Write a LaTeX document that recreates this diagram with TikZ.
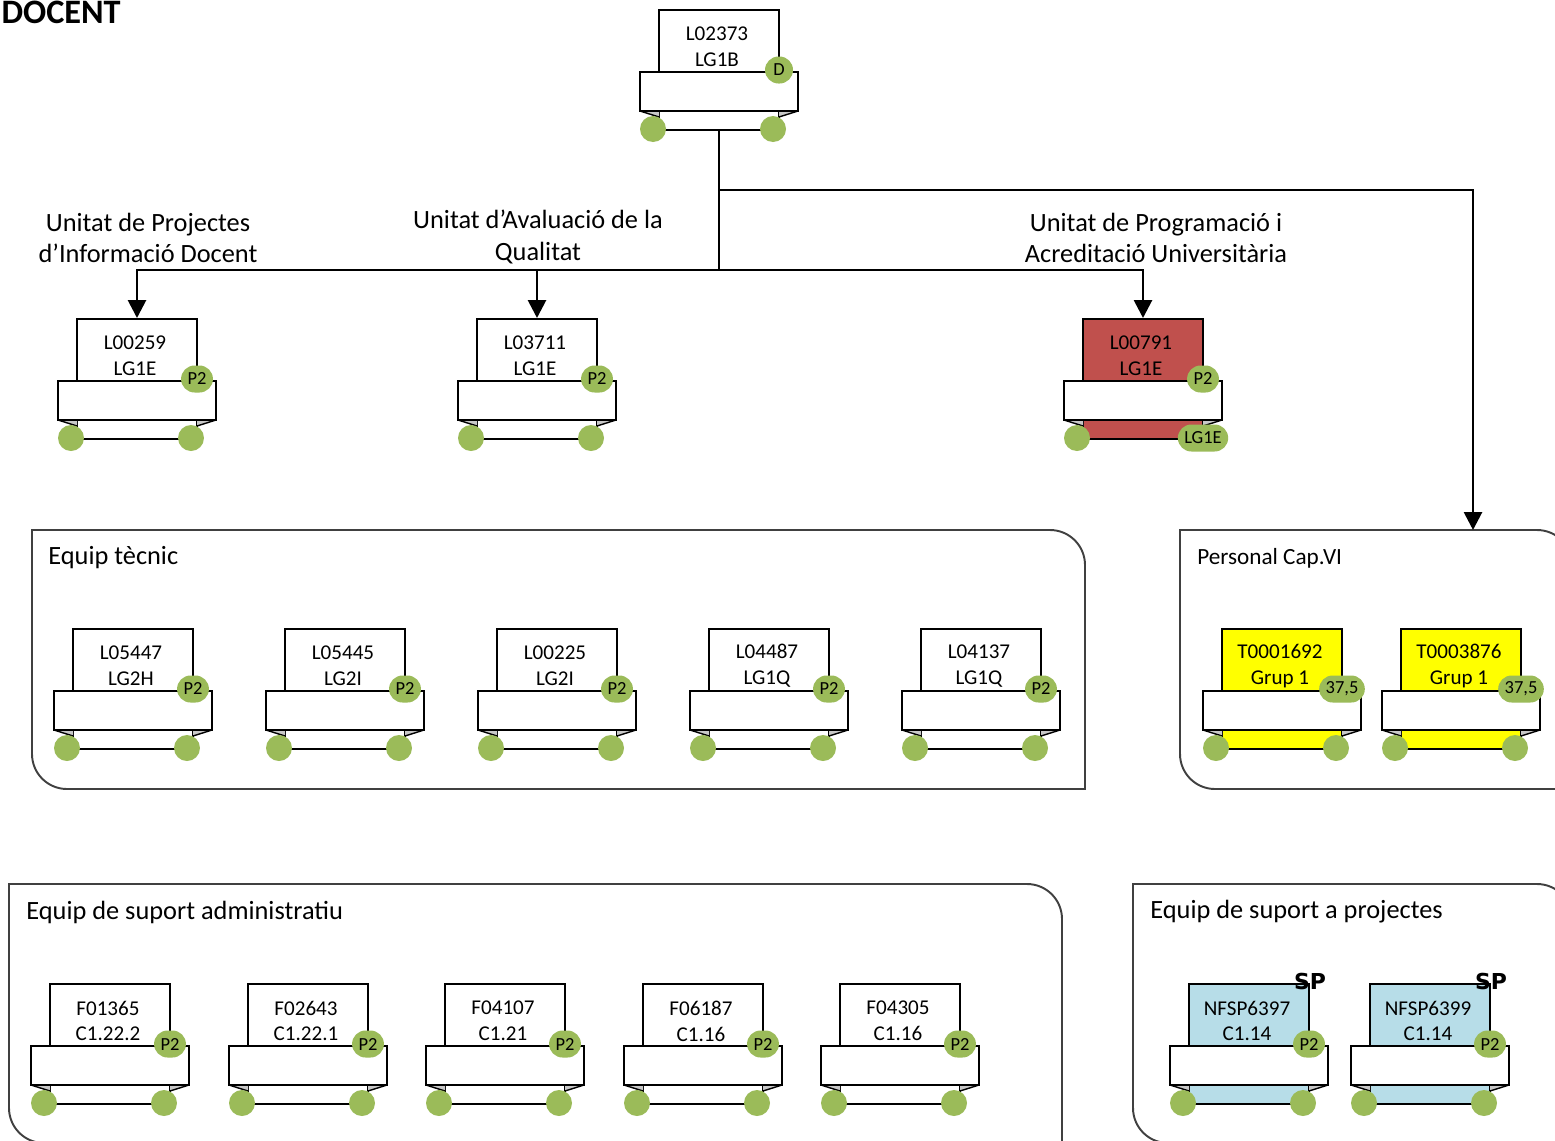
\documentclass[tikz,border=0pt]{standalone}
\usepackage{fontspec}
\setmainfont{Carlito}
\newfontfamily\spfont{DejaVu Sans}
\usetikzlibrary{arrows.meta}
\definecolor{dotgreen}{HTML}{9BBB59}
\definecolor{cardred}{HTML}{C0504D}
\definecolor{cardblue}{HTML}{B7DDE8}
\definecolor{cardyellow}{HTML}{FFFF00}
\definecolor{foldgray}{HTML}{C8C8C8}
\definecolor{grpgray}{HTML}{404040}
\tikzset{
  back/.style={draw, line width=1.1pt, minimum width=2.4cm, minimum height=2.4cm, inner sep=0pt},
  band/.style={draw, fill=white, line width=1.1pt},
  fold/.style={fill=foldgray},
  foldline/.style={line width=0.8pt},
  dot/.style={fill=dotgreen},
  txt/.style={align=center, inner sep=0pt, font=\fontsize{12}{14.7}\selectfont},
  badge/.style={fill=dotgreen, rounded corners=0.27cm, minimum height=0.54cm, minimum width=0.56cm,
    inner xsep=0.13cm, inner ysep=0pt, font=\fontsize{10.5}{11}\selectfont},
  conn/.style={line width=1.6pt},
  tip/.style={-{Triangle[length=0.36cm, width=0.36cm]}},
  grp/.style={draw=grpgray, line width=1.1pt},
  unitat/.style={align=center, inner sep=0pt, font=\fontsize{15}{18.1}\selectfont},
  equip/.style={anchor=west, inner sep=0pt, font=\fontsize{15}{18}\selectfont}
}
% plaza: name, cx, top, line1, line2, fill, badge
\newcommand{\plaza}[7]{%
  \node[back, fill=#6, anchor=north] (#1) at (#2,#3) {};
  \fill[fold] ({#2-79},{#3+102}) -- ({#2-60},{#3+102}) -- ({#2-60},{#3+108}) -- cycle;
  \fill[fold] ({#2+79},{#3+102}) -- ({#2+60},{#3+102}) -- ({#2+60},{#3+108}) -- cycle;
  \draw[foldline] ({#2-79},{#3+102}) -- ({#2-60},{#3+108});
  \draw[foldline] ({#2+79},{#3+102}) -- ({#2+60},{#3+108});
  \draw[band] ({#2-79},{#3+63}) rectangle ({#2+79},{#3+102});
  \fill[dot] ({#2-66},{#3+120}) circle[radius=0.26cm];
  \fill[dot] ({#2+54},{#3+120}) circle[radius=0.26cm];
  \node[txt] (#1-t) at ({#2-2},{#3+38}) {#4\\#5};
  \node[badge] (#1-b) at ({#2+60},{#3+61}) {#7};
}
\begin{document}
\begin{tikzpicture}[x=0.02cm, y=-0.02cm]
        \useasboundingbox (0,0) rectangle (1555,1140);
        \node[anchor=base east, inner sep=0pt, font=\bfseries\fontsize{19.5}{22}\selectfont] (titol) at (121,23) {DOCENT};

        \draw[grp] (32,530) -- (1050,530) arc[start angle=90, end angle=0, radius=0.7cm] -- (1085,789) -- (67,789) arc[start angle=270, end angle=180, radius=0.7cm] -- cycle;
        \draw[grp] (1180,530) -- (1537,530) arc[start angle=90, end angle=0, radius=0.7cm] -- (1572,789) -- (1215,789) arc[start angle=270, end angle=180, radius=0.7cm] -- cycle;
        \draw[grp] (9,884) -- (1027,884) arc[start angle=90, end angle=0, radius=0.7cm] -- (1062,1143) -- (44,1143) arc[start angle=270, end angle=180, radius=0.7cm] -- cycle;
        \draw[grp] (1133,884) -- (1537,884) arc[start angle=90, end angle=0, radius=0.7cm] -- (1572,1143) -- (1168,1143) arc[start angle=270, end angle=180, radius=0.7cm] -- cycle;
        \node[equip] (tecnic) at (48,558) {Equip tècnic};
        \node[equip, font=\fontsize{13.2}{15}\selectfont] (capVI) at (1197,558) {Personal Cap.VI};
        \node[equip] (admin) at (26,912) {Equip de suport administratiu};
        \node[equip] (projectes) at (1150,912) {Equip de suport a projectes};

        \plaza{L02373}{719}{9}{L02373}{LG1B}{white}{D}
        \plaza{L00259}{137}{318}{L00259}{LG1E}{white}{P2}
        \plaza{L03711}{537}{318}{L03711}{LG1E}{white}{P2}
        \plaza{L00791}{1143}{318}{L00791}{LG1E}{cardred}{P2}
        \node[badge] (L00791-g) at (1203,438) {LG1E};

        \coordinate (fork) at (719,190);
        \coordinate (hub) at (719,270);
        \coordinate (capvi-in) at (1473,530);
        \draw[conn] (L02373.south) -- (hub);
        \draw[conn, tip] (hub) -| (L00259.north);
        \draw[conn, tip] (hub) -| (L03711.north);
        \draw[conn, tip] (hub) -| (L00791.north);
        \draw[conn, tip] (fork) -| (capvi-in);

        \node[unitat] (upid) at (148,238) {Unitat de Projectes\\d’Informació Docent};
        \node[unitat] (uaq) at (538,237) {Unitat d’Avaluació de la\\Qualitat};
        \node[unitat] (upau) at (1156,238) {Unitat de Programació i\\Acreditació Universitària};

        \plaza{L05447}{133}{628}{L05447}{LG2H}{white}{P2}
        \plaza{L05445}{345}{628}{L05445}{LG2I}{white}{P2}
        \plaza{L00225}{557}{628}{L00225}{LG2I}{white}{P2}
        \plaza{L04487}{769}{628}{L04487}{LG1Q}{white}{P2}
        \plaza{L04137}{981}{628}{L04137}{LG1Q}{white}{P2}
        \plaza{T0001692}{1282}{628}{T0001692}{Grup 1}{cardyellow}{37,5}
        \plaza{T0003876}{1461}{628}{T0003876}{Grup 1}{cardyellow}{37,5}

        \plaza{F01365}{110}{983}{F01365}{C1.22.2}{white}{P2}
        \plaza{F02643}{308}{983}{F02643}{C1.22.1}{white}{P2}
        \plaza{F04107}{505}{983}{F04107}{C1.21}{white}{P2}
        \plaza{F06187}{703}{983}{F06187}{C1.16}{white}{P2}
        \plaza{F04305}{900}{983}{F04305}{C1.16}{white}{P2}
        \plaza{NFSP6397}{1249}{983}{NFSP6397}{C1.14}{cardblue}{P2}
        \plaza{NFSP6399}{1430}{983}{NFSP6399}{C1.14}{cardblue}{P2}
        \node[inner sep=0pt, font=\spfont\bfseries\fontsize{12.5}{13}\selectfont] (sp1) at (1310,981) {SP};
        \node[inner sep=0pt, font=\spfont\bfseries\fontsize{12.5}{13}\selectfont] (sp2) at (1491,981) {SP};
\end{tikzpicture}
\end{document}
